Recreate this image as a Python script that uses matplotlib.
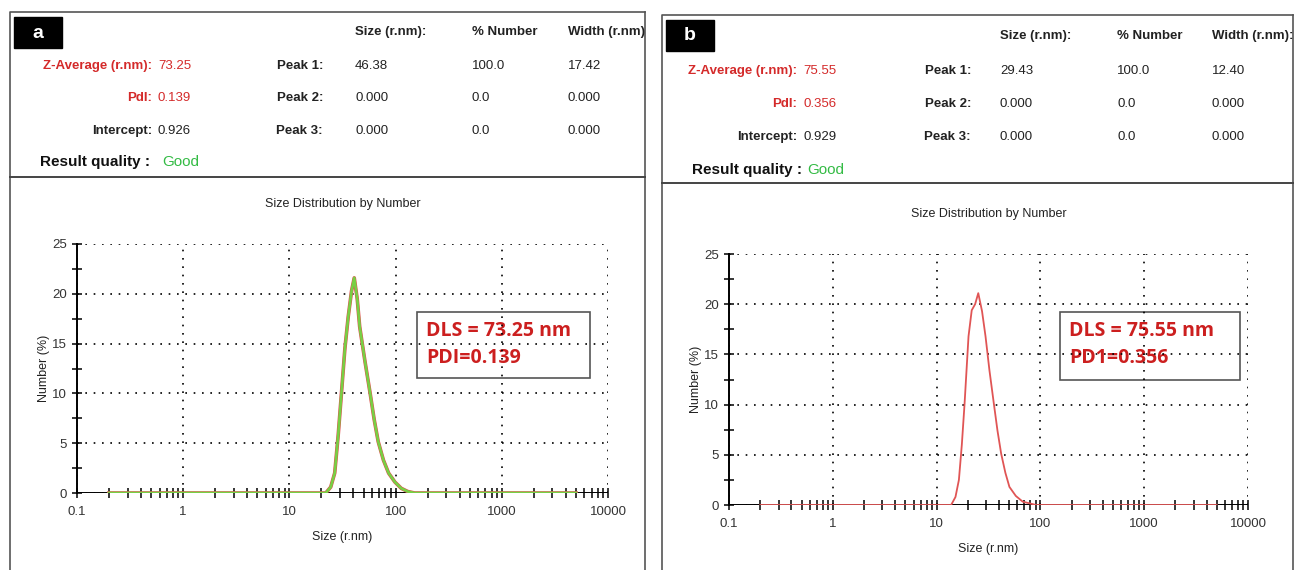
import matplotlib
matplotlib.use("Agg")
import matplotlib.pyplot as plt
from matplotlib.patches import Rectangle
from matplotlib.ticker import FixedLocator, LogLocator, NullFormatter

# --- DATA ---
a_size = [0.2, 22.0, 24.5, 26.7, 28.8, 30.9, 33.3, 35.8, 38.5, 40.8, 43.5, 45.9,
          51.5, 57.6, 62.8, 68.6, 76.8, 85.9, 98.5, 113, 130, 151, 5000]
a_num = [0, 0, 0.6, 2.0, 5.8, 10.0, 14.5, 17.7, 20.3, 21.6, 19.5, 16.7,
         13.2, 10.0, 7.4, 5.15, 3.3, 2.0, 1.1, 0.47, 0.15, 0, 0]

b_size = [0.2, 13.8, 15.2, 16.4, 17.5, 18.6, 20.3, 21.8, 23.5, 25.2, 27.4, 29.6,
          32.3, 35.6, 38.6, 41.9, 46.0, 50.3, 58.0, 67.6, 91, 5000]
b_num = [0, 0, 0.8, 2.5, 6.0, 10.1, 16.8, 19.4, 20.0, 21.1, 19.3, 16.8,
         13.4, 10.1, 7.4, 5.1, 3.2, 1.8, 0.9, 0.33, 0, 0]

row_labels = ["Z-Average (r.nm):", "PdI:", "Intercept:"]
col_heads = ["Size (r.nm):", "% Number", "Width (r.nm):"]
peak_labels = ["Peak 1:", "Peak 2:", "Peak 3:"]

a_summary = ["73.25", "0.139", "0.926"]
a_peaks = [["46.38", "100.0", "17.42"], ["0.000", "0.0", "0.000"], ["0.000", "0.0", "0.000"]]
b_summary = ["75.55", "0.356", "0.929"]
b_peaks = [["29.43", "100.0", "12.40"], ["0.000", "0.0", "0.000"], ["0.000", "0.0", "0.000"]]

a_box = ["DLS = 73.25 nm", "PDI=0.139"]
b_box = ["DLS = 75.55 nm", "PD1=0.356"]

W, H = 1295, 570
NARROW = ["Liberation Sans Narrow", "Liberation Sans", "DejaVu Sans"]
RED = "#d42a2a"
GREEN = "#33bb44"

fig = plt.figure(figsize=(W / 100, H / 100), dpi=100)
fig.patch.set_facecolor("white")

# pixel-coordinate overlay for the report headers
bg = fig.add_axes([0, 0, 1, 1])
bg.set_xlim(0, W)
bg.set_ylim(H, 0)
bg.axis("off")


def header(x0, y0, right, div_y, letter, summary, peaks, lab_x, peak_x, cols_x, rows_y, rq_y, head_y):
    # panel frame
    bg.plot([x0, x0, right], [H + 5, y0, y0], color="#555555", lw=1.2)
    bg.plot([right, right], [y0, H + 5], color="#555555", lw=1.2)
    bg.plot([x0, right], [div_y, div_y], color="#444444", lw=1.4)
    # letter tag
    bg.add_patch(Rectangle((x0 + 4, y0 + 5), 48, 31, color="black"))
    bg.text(x0 + 28, y0 + 21, letter, color="white", fontsize=14, fontweight="bold",
            ha="center", va="center", family="Liberation Sans")
    clip = Rectangle((x0, y0), right - x0, div_y - y0, transform=bg.transData, visible=False)
    for cx, txt in zip(cols_x, col_heads):
        t = bg.text(cx, head_y, txt, fontsize=9.5, fontweight="bold", color="#222222",
                    ha="left", va="center", family=NARROW)
        t.set_clip_path(clip)
        t.set_clip_on(True)
    for i, (lab, val, ry) in enumerate(zip(row_labels, summary, rows_y)):
        c = RED if i < 2 else "#222222"
        bg.text(lab_x, ry, lab, fontsize=9.5, fontweight="bold", color=c,
                ha="right", va="center", family=NARROW)
        bg.text(lab_x + 6, ry, val, fontsize=9.5, color=c,
                ha="left", va="center", family=NARROW)
        bg.text(peak_x, ry, peak_labels[i], fontsize=9.5, fontweight="bold", color="#222222",
                ha="right", va="center", family=NARROW)
        for cx, v in zip(cols_x, peaks[i]):
            bg.text(cx, ry, v, fontsize=9.5, color="#222222",
                    ha="left", va="center", family=NARROW)
    bg.text(x0 + 30, rq_y, "Result quality :", fontsize=11, fontweight="bold", color="#111111",
            ha="left", va="center", family=NARROW)
    bg.text(lab_x + 10, rq_y, "Good", fontsize=11, color=GREEN,
            ha="left", va="center", family=NARROW)


header(10, 12, 645, 177, "a", a_summary, a_peaks, 152, 323, [355, 472, 568], [66, 98, 131], 162, 32)
header(662, 15, 1293, 183, "b", b_summary, b_peaks, 797, 971, [1000, 1117, 1212], [71, 104, 137], 170, 36)


def dist_plot(px_left, px_right, px_top, px_bottom, sizes, nums, box_lines, box_px, green):
    ax = fig.add_axes([px_left / W, 1 - px_bottom / H, (px_right - px_left) / W,
                       (px_bottom - px_top) / H])
    ax.set_xscale("log")
    ax.set_xlim(0.1, 10000)
    ax.set_ylim(0, 25)
    ax.set_facecolor("none")
    if green:
        ax.plot(sizes, nums, color="#e05050", lw=2.6, zorder=3)
        ax.plot(sizes, nums, color="#77d044", lw=1.9, zorder=4)
    else:
        ax.plot(sizes, nums, color="#e05555", lw=1.3, zorder=4)
    ax.axhline(0, color="black", lw=1.4, zorder=2)
    for s in ["top", "right"]:
        ax.spines[s].set_visible(False)
    ax.spines["bottom"].set_visible(False)
    ax.spines["left"].set_linewidth(1.4)
    ax.set_yticks([0, 5, 10, 15, 20, 25])
    ax.yaxis.set_minor_locator(FixedLocator([2.5, 7.5, 12.5, 17.5, 22.5]))
    ax.set_xticks([0.1, 1, 10, 100, 1000, 10000])
    ax.set_xticklabels(["0.1", "1", "10", "100", "1000", "10000"])
    ax.xaxis.set_minor_locator(LogLocator(base=10, subs=range(2, 10)))
    ax.xaxis.set_minor_formatter(NullFormatter())
    ax.tick_params(which="both", direction="inout", length=7, width=1.1, color="black",
                   labelsize=9.5, labelcolor="#333333")
    ax.tick_params(axis="x", which="major", pad=6)
    for lbl in ax.get_xticklabels() + ax.get_yticklabels():
        lbl.set_family(NARROW)
    ax.grid(True, which="major", color="black", lw=1.2, linestyle=(0, (1, 4)))
    ax.set_xlabel("Size (r.nm)", fontsize=9, family=NARROW, color="#222222", labelpad=9)
    ax.set_ylabel("Number (%)", fontsize=9, family="Liberation Sans", color="#222222", labelpad=2)
    ax.set_title("Size Distribution by Number", fontsize=9, family=NARROW, color="#222222", pad=27)
    bx0, by0, bx1, by1 = box_px
    bg.add_patch(Rectangle((bx0, by0), bx1 - bx0, by1 - by0, fill=False,
                           edgecolor="#555555", lw=1.2, zorder=5))
    bg.text(bx0 + 9, by0 + 19, box_lines[0], color="#cc1f1f", fontsize=14, fontweight="bold",
            family="Open Sans", va="center", zorder=6)
    bg.text(bx0 + 9, by0 + 46, box_lines[1], color="#cc1f1f", fontsize=14, fontweight="bold",
            family="Open Sans", va="center", zorder=6)
    return ax


dist_plot(77, 608, 244, 493, a_size, a_num, a_box, (417, 312, 590, 378), True)
dist_plot(729, 1248, 254, 505, b_size, b_num, b_box, (1060, 312, 1240, 380), False)

fig.savefig("out.png", dpi=100)
